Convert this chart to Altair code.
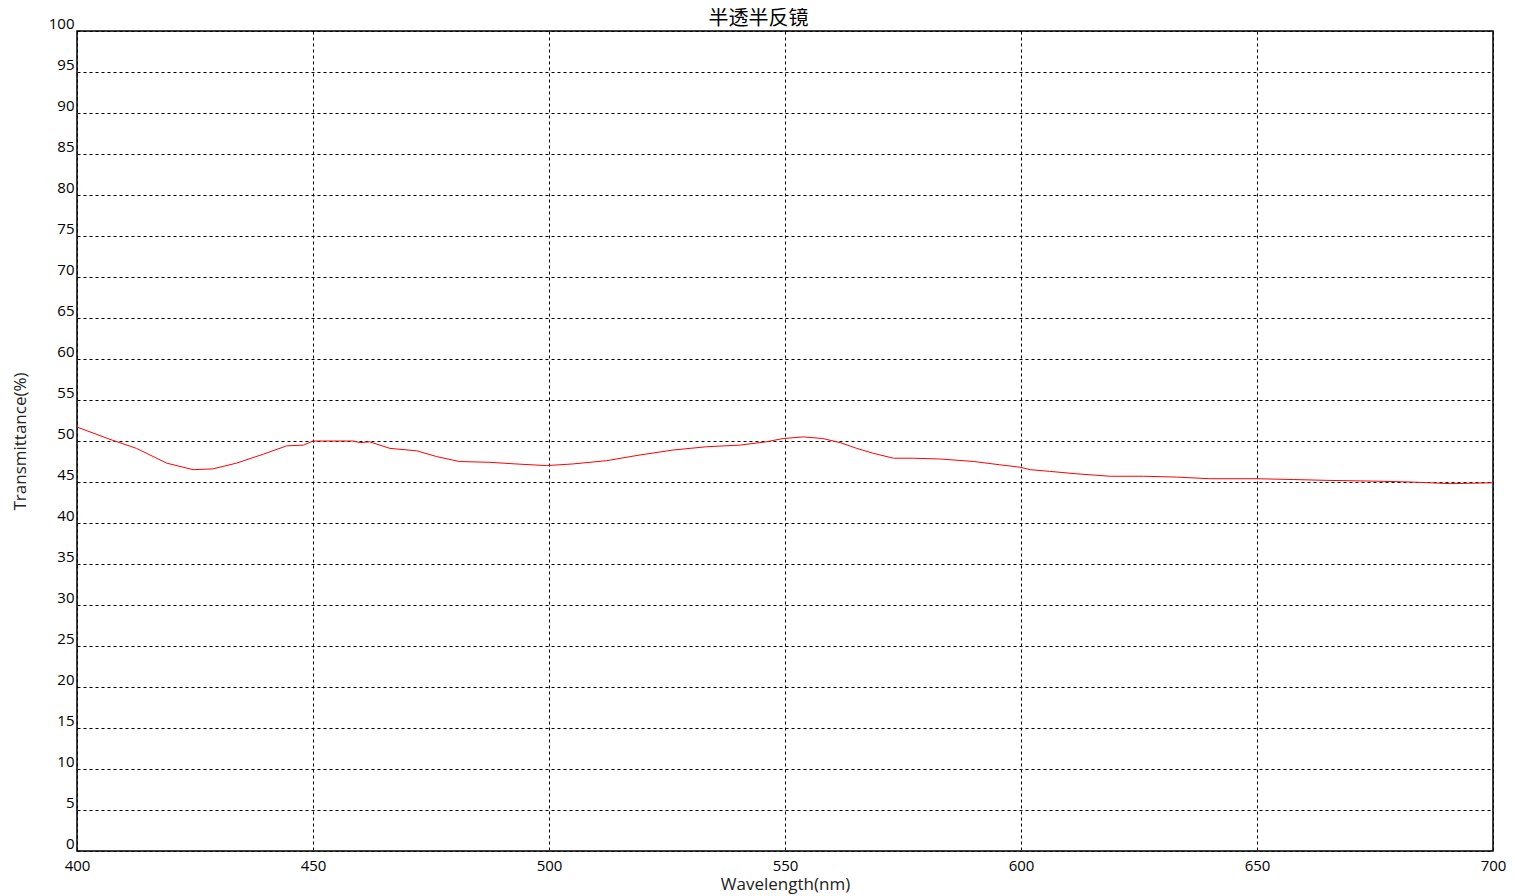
import altair as alt
import pandas as pd

wavelength = [400, 407, 412.6, 419, 424.6, 428.8, 433.8, 439.5, 444.4, 448, 450, 455, 458.5, 460, 462,
              466.3, 472, 476.2, 481, 487.5, 493, 499.5, 505, 512.2, 519.3, 526.3, 533.4, 540.5, 546,
              549.6, 553.9, 558, 561.7, 565.2, 568.7, 573, 577.2, 583, 590, 595.5, 599.8, 602, 606,
              611.8, 618.9, 626, 633, 640, 650, 657.7, 664.8, 675.4, 682.4, 691, 700]
transmittance = [51.7, 50.2, 49.1, 47.3, 46.5, 46.6, 47.3, 48.4, 49.4, 49.5, 50.0, 50.0, 50.0, 49.8, 49.9,
                 49.1, 48.8, 48.1, 47.5, 47.4, 47.2, 47.0, 47.2, 47.6, 48.3, 48.9, 49.3, 49.5, 49.9,
                 50.3, 50.5, 50.3, 49.8, 49.1, 48.5, 47.9, 47.9, 47.8, 47.5, 47.1, 46.8, 46.5, 46.3,
                 46.0, 45.7, 45.7, 45.6, 45.4, 45.4, 45.3, 45.2, 45.1, 45.0, 44.8, 44.9]
x_ticks = [400, 450, 500, 550, 600, 650, 700]
y_ticks = list(range(0, 101, 5))

df = pd.DataFrame({"wl": wavelength, "t": transmittance})

font = "Open Sans"
cjk = "Noto Sans CJK SC"

chart = alt.Chart(df).mark_line(color="#ff0000", strokeWidth=1).encode(
    x=alt.X("wl:Q", scale=alt.Scale(domain=[400, 700], nice=False, zero=False),
            axis=alt.Axis(values=x_ticks, title="Wavelength(nm)", grid=True, tickSize=0,
                          labelPadding=7, titlePadding=3, labelFontSize=15, titleFontSize=17,
                          labelFont=font, titleFont=font, labelColor="#000", titleColor="#222",
                          titleFontWeight="normal", domain=False, labelFlush=False)),
    y=alt.Y("t:Q", scale=alt.Scale(domain=[0, 100], nice=False),
            axis=alt.Axis(values=y_ticks, title="Transmittance(%)", grid=True, tickSize=0,
                          labelPadding=3, titlePadding=19, labelFontSize=15, titleFontSize=17,
                          labelFont=font, titleFont=font, labelColor="#000", titleColor="#222",
                          titleFontWeight="normal", domain=False, labelBaseline="bottom",
                          labelFlush=False)),
).properties(
    width=1416, height=820,
    title=alt.TitleParams("半透半反镜", font=cjk, fontSize=20, fontWeight="normal",
                          color="#000", offset=-13, anchor="middle", frame="bounds"),
    autosize=alt.AutoSizeParams(type="none"),
    padding={"left": 69, "top": 23, "right": 14, "bottom": 48},
).configure_axis(
    gridColor="#000", gridDash=[3, 3], gridWidth=1, gridOpacity=1
).configure_view(
    stroke="#000", strokeWidth=1.5
)

chart.save("out.html", embed_options={"renderer": "svg", "actions": False})
